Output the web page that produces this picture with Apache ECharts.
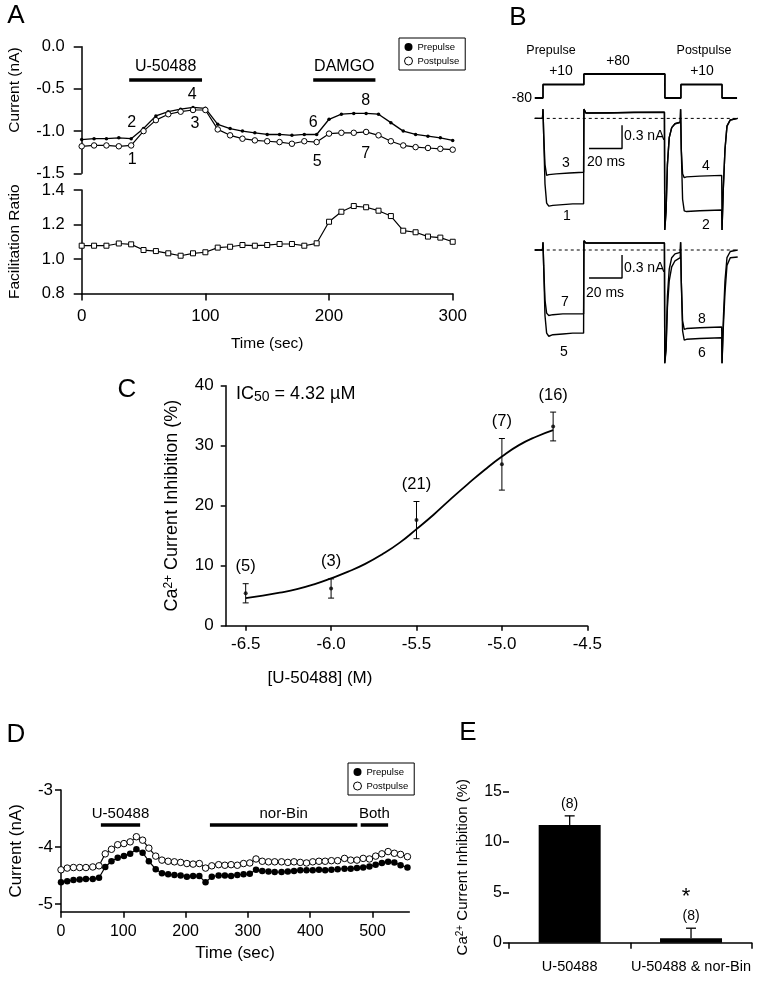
<!DOCTYPE html>
<html><head><meta charset="utf-8">
<script src="https://cdn.jsdelivr.net/npm/echarts@6/dist/echarts.min.js"></script>
<style>html,body{margin:0;padding:0;background:#fff}#c{width:762px;height:981px}</style>
</head><body><div id="c"></div>
<script>
// ---------- Panel A data ----------
const aTime = [0,10,20,30,40,50,60,70,80,90,100,110,120,130,140,150,160,170,180,190,200,210,220,230,240,250,260,270,280,290,300];
const aPre  = [-1.10,-1.09,-1.09,-1.08,-1.09,-0.97,-0.82,-0.77,-0.74,-0.72,-0.73,-0.92,-0.97,-1.00,-1.02,-1.04,-1.04,-1.05,-1.04,-1.04,-0.86,-0.80,-0.79,-0.79,-0.80,-0.90,-1.00,-1.04,-1.06,-1.08,-1.11];
const aPost = [-1.18,-1.17,-1.17,-1.18,-1.17,-1.00,-0.87,-0.80,-0.77,-0.75,-0.75,-0.98,-1.05,-1.09,-1.11,-1.12,-1.13,-1.15,-1.12,-1.13,-1.03,-1.02,-1.02,-1.01,-1.05,-1.12,-1.17,-1.19,-1.20,-1.21,-1.22];
const aRatio = [1.077,1.077,1.077,1.09,1.085,1.052,1.046,1.033,1.019,1.033,1.039,1.066,1.071,1.081,1.077,1.081,1.087,1.087,1.077,1.091,1.216,1.274,1.307,1.300,1.280,1.249,1.164,1.155,1.130,1.124,1.100];
const aDrugs = [{name:'U-50488', from:38.4, to:97.3},{name:'DAMGO', from:187.2, to:237.5}];
const aDrugLevel = -0.396;

// ---------- Panel B data (ms, nA / mV) ----------
const protocol = [[-5,-80],[0,-80],[0,10],[24.8,10],[24.8,80],[73.9,80],[73.9,-80],[83.6,-80],[83.6,10],[108.5,10],[108.5,-80],[117.6,-80]];
const traceCtrlTop = [[-5,0],[-0.3,0],[0,0.12],[0.4,-0.2],[1.2,-0.85],[2.2,-1.1],[3.5,-1.14],[6,-1.13],[12,-1.12],[18,-1.11],[24.6,-1.11],[24.8,0.12],[26,0.07],[40,0.07],[55,0.08],[73.6,0.08],[73.8,-1.45],[74.6,-1.2],[75.4,-0.6],[76.5,-0.25],[78,-0.12],[80,-0.07],[83.2,-0.05],[83.4,0.12],[83.8,-0.4],[84.6,-1.05],[85.6,-1.2],[87,-1.21],[95,-1.2],[108.3,-1.19],[108.5,-1.45],[109.3,-0.9],[110.3,-0.4],[111.5,-0.1],[113.5,-0.02],[118,0]];
const traceDrugTop = [[-5,0],[-0.3,0],[0,0.12],[0.4,-0.2],[1.2,-0.6],[2.2,-0.74],[3.5,-0.73],[8,-0.72],[16,-0.71],[24.6,-0.7],[24.8,0.12],[26,0.07],[73.6,0.08],[73.8,-1.45],[74.6,-1.2],[75.4,-0.6],[76.5,-0.25],[78,-0.12],[80,-0.07],[83.2,-0.05],[83.4,0.12],[83.8,-0.4],[84.6,-0.72],[85.6,-0.77],[87,-0.76],[95,-0.75],[108.3,-0.74],[108.5,-1.45],[109.3,-0.9],[110.3,-0.4],[111.5,-0.1],[113.5,-0.02],[118,0]];
const traceCtrlBot = [[-5,0],[-0.3,0],[0,0.1],[0.4,-0.2],[1.2,-0.85],[2.2,-1.08],[3.5,-1.12],[6,-1.1],[12,-1.09],[18,-1.08],[24.6,-1.08],[24.8,0.12],[26,0.09],[40,0.09],[55,0.09],[73.6,0.09],[73.8,-1.47],[74.6,-1.25],[75.4,-0.6],[76.5,-0.25],[78,-0.1],[80,-0.05],[83.2,-0.03],[83.4,0.1],[83.8,-0.4],[84.6,-1.05],[85.6,-1.17],[87,-1.16],[95,-1.15],[108.3,-1.14],[108.5,-1.47],[109.3,-0.9],[110.3,-0.4],[111.5,-0.1],[113.5,-0.02],[118,0]];
const traceDrugBot = [[-5,0],[-0.3,0],[0,0.1],[0.4,-0.2],[1.2,-0.65],[2.2,-0.82],[3.5,-0.85],[6,-0.84],[12,-0.83],[18,-0.83],[24.6,-0.83],[24.8,0.12],[26,0.09],[73.6,0.09],[73.8,-1.47],[74.6,-1.3],[75.4,-0.75],[76.5,-0.4],[78,-0.22],[80,-0.14],[83.2,-0.1],[83.4,0.1],[83.8,-0.4],[84.6,-0.92],[85.6,-1.03],[87,-1.02],[95,-1.01],[108.3,-1.0],[108.5,-1.47],[109.3,-1.0],[110.3,-0.55],[111.5,-0.2],[113.5,-0.1],[118,-0.09]];
const scaleTime = [27.9, 47.9];   // 20 ms
const scaleAmp = 0.3;             // nA

// ---------- Panel C data ----------
const cLogConc = [-6.5,-6.0,-5.5,-5.0,-4.7];
const cMean = [5.4,6.2,17.6,26.9,33.2];
const cErr  = [1.6,1.6,3.1,4.3,2.4];
const cN    = [5,3,21,7,16];
const fitX = [-6.5,-6.4,-6.3,-6.2,-6.1,-6.0,-5.9,-5.8,-5.7,-5.6,-5.5,-5.4,-5.3,-5.2,-5.1,-5.0,-4.9,-4.8,-4.7];
const fitY = [4.6,5.0,5.5,6.1,6.9,7.9,9.0,10.3,11.9,13.8,16.1,18.5,21.1,23.6,26.0,28.2,30.1,31.5,32.6];
const cTicks = [-6.5,-6.0,-5.5,-5.0,-4.5];

// ---------- Panel D data ----------
const dTime = [0,10,20,30,40,51,61,71,81,91,101,111,121,131,141,152,162,172,182,192,202,212,222,232,242,253,263,273,283,293,303,313,323,333,343,354,364,374,384,394,404,414,424,434,444,455,465,475,485,495,505,515,525,535,545,556];
const dPre  = [-4.62,-4.60,-4.58,-4.57,-4.56,-4.56,-4.54,-4.35,-4.25,-4.19,-4.16,-4.12,-4.04,-4.10,-4.25,-4.39,-4.46,-4.48,-4.49,-4.50,-4.52,-4.51,-4.51,-4.62,-4.52,-4.50,-4.50,-4.51,-4.49,-4.48,-4.47,-4.40,-4.42,-4.43,-4.44,-4.44,-4.43,-4.42,-4.41,-4.41,-4.41,-4.40,-4.41,-4.40,-4.39,-4.38,-4.38,-4.37,-4.36,-4.34,-4.31,-4.28,-4.26,-4.27,-4.32,-4.36];
const dPost = [-4.40,-4.37,-4.36,-4.36,-4.36,-4.35,-4.33,-4.12,-4.04,-3.96,-3.94,-3.91,-3.82,-3.88,-4.02,-4.16,-4.23,-4.25,-4.26,-4.27,-4.29,-4.30,-4.29,-4.37,-4.33,-4.31,-4.32,-4.31,-4.32,-4.29,-4.28,-4.21,-4.25,-4.26,-4.26,-4.26,-4.27,-4.26,-4.27,-4.28,-4.26,-4.25,-4.25,-4.24,-4.24,-4.20,-4.23,-4.23,-4.20,-4.21,-4.16,-4.12,-4.08,-4.11,-4.13,-4.17];
const dDrugs = [{name:'U-50488', from:64, to:127},{name:'nor-Bin', from:239, to:475.6},{name:'Both', from:481, to:525}];
const dDrugLevel = -3.614;
const dTicksX = [0,100,200,300,400,500];
const dTicksY = [-5,-4,-3];

// ---------- Panel E data ----------
const eCats = ['U-50488','U-50488 & nor-Bin'];
const eMean = [11.7, 0.44];
const eErr  = [0.9, 1.0];
const eN    = [8, 8];
const eSig  = ['', '*'];

const FONT = 'Liberation Sans, Arial, Helvetica, sans-serif';
const chart = echarts.init(document.getElementById('c'), null, {renderer:'canvas'});
const axLine = {lineStyle:{color:'#000', width:1.5}};
const axTick = (len)=>({show:true, length:len, lineStyle:{color:'#000', width:1.5}});
const txt = (s, x, y, size, extra) => Object.assign({type:'text', x:x, y:y, style:{text:s, fontSize:size, fontFamily:FONT, fill:'#000', align:'center', verticalAlign:'middle'}}, extra||{});

const drugMark = (drugs, level, fs, dist) => ({
  silent:true, symbol:['none','none'],
  lineStyle:{color:'#000', width:3.5, type:'solid'},
  label:{show:true, position:'middle', formatter:(p)=>p.name, fontSize:fs, fontFamily:FONT, color:'#000', distance:dist},
  emphasis:{disabled:true},
  data: drugs.map(d=>[{name:d.name, coord:[d.from, level]},{coord:[d.to, level]}])
});

const ciRender = (params, api) => {
  const x = api.value(0), m = api.value(1), e = api.value(2), n = api.value(3);
  const t = api.coord([x, m+e]), b = api.coord([x, m-e]);
  const cw = 3;
  const ls = {stroke:'#000', lineWidth:1};
  return {type:'group', children:[
    {type:'line', shape:{x1:t[0],y1:t[1],x2:b[0],y2:b[1]}, style:ls},
    {type:'line', shape:{x1:t[0]-cw,y1:t[1],x2:t[0]+cw,y2:t[1]}, style:ls},
    {type:'line', shape:{x1:b[0]-cw,y1:b[1],x2:b[0]+cw,y2:b[1]}, style:ls},
    {type:'text', x:t[0], y:t[1]-17, style:{text:'('+n+')', fontSize:16.5, fontFamily:FONT, fill:'#000', align:'center', verticalAlign:'middle'}}
  ]};
};
const eRender = (params, api) => {
  const i = api.value(0), m = api.value(1), e = api.value(2), n = api.value(3);
  const t = api.coord([i, m+e]), b = api.coord([i, m]);
  const cw = 5;
  const ls = {stroke:'#000', lineWidth:1.3};
  const ch = [
    {type:'line', shape:{x1:t[0],y1:t[1],x2:b[0],y2:b[1]}, style:ls},
    {type:'line', shape:{x1:t[0]-cw,y1:t[1],x2:t[0]+cw,y2:t[1]}, style:ls},
    {type:'text', x:t[0], y:t[1]-12, style:{text:'('+n+')', fontSize:14, fontFamily:FONT, fill:'#000', align:'center', verticalAlign:'middle'}}
  ];
  if (eSig[i]) ch.push({type:'text', x:t[0]-5, y:t[1]-31, style:{text:eSig[i], fontSize:22, fontFamily:FONT, fill:'#000', align:'center', verticalAlign:'middle'}});
  return {type:'group', children:ch};
};

const supTitle = (pre, sup, post, fs) => ({
  name: '{a|'+pre+'}{s|'+sup+'}{a|'+post+'}',
  rich: {a:{fontSize:fs, fontFamily:FONT, color:'#000'}, s:{fontSize:Math.round(fs*0.65), fontFamily:FONT, color:'#000', verticalAlign:'top', padding:[0,0,6,0]}}
});
const cTitle = supTitle('Ca','2+',' Current Inhibition (%)',18);
const eTitle = supTitle('Ca','2+',' Current Inhibition (%)',15);

const legendBox = (left, top) => ({
  left:left, top:top, orient:'vertical', selectedMode:false,
  itemWidth:8, itemHeight:8, itemGap:4, itemTextGap:6,
  padding:[4,6,4,5], borderColor:'#000', borderWidth:1, backgroundColor:'#fff',
  textStyle:{fontSize:9.5, fontFamily:FONT, color:'#000'},
  data:[{name:'Prepulse', icon:'circle', itemStyle:{color:'#000'}},
        {name:'Postpulse', icon:'circle', itemStyle:{color:'#fff', borderColor:'#000', borderWidth:1}}]
});

const option = {
  animation:false,
  textStyle:{fontFamily:FONT, color:'#000'},
  legend:[legendBox(399,38), legendBox(348,763)],
  grid:[
    {left:81.7, top:46.7, width:371, height:126.6, outerBoundsMode:'none'},   // 0 A current
    {left:81.7, top:190, width:371, height:103.5, outerBoundsMode:'none'},    // 1 A ratio
    {left:533.1, top:74, width:207.9, height:24, outerBoundsMode:'none'},     // 2 B protocol
    {left:533.1, top:103, width:207.9, height:154, outerBoundsMode:'none'},   // 3 B top traces
    {left:533.1, top:234.6, width:207.9, height:154, outerBoundsMode:'none'}, // 4 B bottom traces
    {left:225.7, top:385.7, width:361.6, height:240, outerBoundsMode:'none'}, // 5 C
    {left:61, top:790, width:348.3, height:121.7, outerBoundsMode:'none'},    // 6 D
    {left:509, top:791.7, width:242.7, height:151, outerBoundsMode:'none'}    // 7 E
  ],
  xAxis:[
    {gridIndex:0, type:'value', min:0, max:300, show:false},
    {gridIndex:1, type:'value', min:0, max:300, interval:100, axisLine:axLine, axisTick:axTick(7), splitLine:{show:false},
      axisLabel:{fontSize:17, color:'#000', margin:14}, name:'Time (sec)', nameLocation:'middle', nameGap:42, nameTextStyle:{fontSize:15.5, color:'#000'}},
    {gridIndex:2, type:'value', min:-6, max:120, show:false},
    {gridIndex:3, type:'value', min:-6, max:120, show:false},
    {gridIndex:4, type:'value', min:-6, max:120, show:false},
    {gridIndex:5, type:'value', min:-6.617, max:-4.5, axisLine:axLine, splitLine:{show:false},
      axisTick:Object.assign(axTick(5), {customValues:cTicks}),
      axisLabel:{customValues:cTicks, formatter:(v)=>v.toFixed(1), fontSize:17, color:'#000', margin:10}},
    {gridIndex:6, type:'value', min:0, max:559, axisLine:axLine, splitLine:{show:false},
      axisTick:Object.assign(axTick(6), {customValues:dTicksX}),
      axisLabel:{customValues:dTicksX, fontSize:16, color:'#000', margin:12},
      name:'Time (sec)', nameLocation:'middle', nameGap:33, nameTextStyle:{fontSize:17, color:'#000'}},
    {gridIndex:7, type:'category', data:eCats, axisLine:axLine, axisTick:axTick(6), splitLine:{show:false},
      axisLabel:{interval:0, fontSize:14.5, color:'#000', margin:17}}
  ],
  yAxis:[
    {gridIndex:0, type:'value', min:-1.5, max:0, interval:0.5, axisLine:axLine, axisTick:axTick(8), splitLine:{show:false},
      axisLabel:{formatter:(v)=>v.toFixed(1), fontSize:16.5, color:'#000', margin:17},
      name:'Current (nA)', nameLocation:'middle', nameGap:59, nameTextStyle:{fontSize:15.5, color:'#000', padding:[0,0,0,40]}},
    {gridIndex:1, type:'value', min:0.8, max:1.4, interval:0.2, axisLine:axLine, axisTick:axTick(8), splitLine:{show:false},
      axisLabel:{formatter:(v)=>v.toFixed(1), fontSize:16.5, color:'#000', margin:17},
      name:'Facilitation Ratio', nameLocation:'middle', nameGap:59, nameTextStyle:{fontSize:15.5, color:'#000'}},
    {gridIndex:2, type:'value', min:-80, max:80, show:false},
    {gridIndex:3, type:'value', min:-1.8, max:0.2, show:false},
    {gridIndex:4, type:'value', min:-1.8, max:0.2, show:false},
    {gridIndex:5, type:'value', min:0, max:40, interval:10, axisLine:axLine, axisTick:axTick(5), splitLine:{show:false},
      axisLabel:{fontSize:17, color:'#000', margin:12},
      name:cTitle.name, nameLocation:'middle', nameGap:45, nameTextStyle:{rich:cTitle.rich}},
    {gridIndex:6, type:'value', min:-5.135, max:-3, axisLine:axLine, splitLine:{show:false},
      axisTick:Object.assign(axTick(6), {customValues:dTicksY}),
      axisLabel:{customValues:dTicksY, fontSize:17, color:'#000', margin:8},
      name:'Current (nA)', nameLocation:'middle', nameGap:36, nameTextStyle:{fontSize:17, color:'#000'}},
    {gridIndex:7, type:'value', min:0, max:15, interval:5, axisLine:axLine, axisTick:axTick(6), splitLine:{show:false},
      axisLabel:{fontSize:16, color:'#000', margin:7},
      name:eTitle.name, nameLocation:'middle', nameGap:38, nameTextStyle:{rich:eTitle.rich}}
  ],
  series:[
    // Panel A
    {name:'Prepulse', type:'line', xAxisIndex:0, yAxisIndex:0, data:aTime.map((t,i)=>[t,aPre[i]]),
      symbol:'circle', symbolSize:3.5, itemStyle:{color:'#000'}, lineStyle:{color:'#000', width:1.3},
      markLine:drugMark(aDrugs, aDrugLevel, 16, 6)},
    {name:'Postpulse', type:'line', xAxisIndex:0, yAxisIndex:0, data:aTime.map((t,i)=>[t,aPost[i]]),
      symbol:'circle', symbolSize:5.5, itemStyle:{color:'#fff', borderColor:'#000', borderWidth:1}, lineStyle:{color:'#000', width:1.2}},
    {name:'Ratio', type:'line', xAxisIndex:1, yAxisIndex:1, data:aTime.map((t,i)=>[t,aRatio[i]]),
      symbol:'rect', symbolSize:5, itemStyle:{color:'#fff', borderColor:'#000', borderWidth:1}, lineStyle:{color:'#000', width:1.2}},
    // Panel B
    {name:'Protocol', type:'line', xAxisIndex:2, yAxisIndex:2, data:protocol, symbol:'none', lineStyle:{color:'#000', width:1.8}},
    {name:'BaseTop', type:'line', xAxisIndex:3, yAxisIndex:3, data:[[-5,0],[118,0]], symbol:'none', lineStyle:{color:'#000', width:1, type:[3,3]}},
    {name:'CtrlTop', type:'line', xAxisIndex:3, yAxisIndex:3, data:traceCtrlTop, symbol:'none', lineStyle:{color:'#000', width:1.4}},
    {name:'DrugTop', type:'line', xAxisIndex:3, yAxisIndex:3, data:traceDrugTop, symbol:'none', lineStyle:{color:'#000', width:1.4}},
    {name:'ScaleTop', type:'line', xAxisIndex:3, yAxisIndex:3, symbol:'none', lineStyle:{color:'#000', width:1.4},
      data:[[scaleTime[0],-0.39],[scaleTime[1],-0.39],[scaleTime[1],-0.39+scaleAmp]]},
    {name:'BaseBot', type:'line', xAxisIndex:4, yAxisIndex:4, data:[[-5,0],[118,0]], symbol:'none', lineStyle:{color:'#000', width:1, type:[3,3]}},
    {name:'CtrlBot', type:'line', xAxisIndex:4, yAxisIndex:4, data:traceCtrlBot, symbol:'none', lineStyle:{color:'#000', width:1.4}},
    {name:'DrugBot', type:'line', xAxisIndex:4, yAxisIndex:4, data:traceDrugBot, symbol:'none', lineStyle:{color:'#000', width:1.4}},
    {name:'ScaleBot', type:'line', xAxisIndex:4, yAxisIndex:4, symbol:'none', lineStyle:{color:'#000', width:1.4},
      data:[[scaleTime[0],-0.364],[scaleTime[1],-0.364],[scaleTime[1],-0.364+scaleAmp]]},
    // Panel C
    {name:'Fit', type:'line', xAxisIndex:5, yAxisIndex:5, data:fitX.map((x,i)=>[x,fitY[i]]), smooth:true, symbol:'none', lineStyle:{color:'#000', width:1.8}},
    {name:'CErr', type:'custom', xAxisIndex:5, yAxisIndex:5, renderItem:ciRender, data:cLogConc.map((x,i)=>[x,cMean[i],cErr[i],cN[i]])},
    {name:'CMean', type:'scatter', xAxisIndex:5, yAxisIndex:5, data:cLogConc.map((x,i)=>[x,cMean[i]]), symbol:'circle', symbolSize:4, itemStyle:{color:'#000'}},
    // Panel D
    {name:'Prepulse', type:'line', xAxisIndex:6, yAxisIndex:6, data:dTime.map((t,i)=>[t,dPre[i]]),
      symbol:'circle', symbolSize:6.5, itemStyle:{color:'#000'}, lineStyle:{color:'#000', width:1.2},
      markLine:drugMark(dDrugs, dDrugLevel, 15, 4)},
    {name:'Postpulse', type:'line', xAxisIndex:6, yAxisIndex:6, data:dTime.map((t,i)=>[t,dPost[i]]),
      symbol:'circle', symbolSize:6.5, itemStyle:{color:'#fff', borderColor:'#000', borderWidth:1}, lineStyle:{color:'#000', width:1.2}},
    // Panel E
    {name:'EBar', type:'bar', xAxisIndex:7, yAxisIndex:7, data:eMean, barWidth:62, itemStyle:{color:'#000'}},
    {name:'EErr', type:'custom', xAxisIndex:7, yAxisIndex:7, renderItem:eRender, data:eMean.map((m,i)=>[i,m,eErr[i],eN[i]]), z:3}
  ],
  graphic:[
    txt('A', 16, 16, 26), txt('B', 518, 18, 26), txt('C', 127, 390, 26), txt('D', 16, 735, 26), txt('E', 468, 733, 26),
    // Panel A point labels
    txt('2',131.7,122.7,16), txt('1',132.3,159.3,16), txt('4',192.3,94.3,16), txt('3',195,123.3,16),
    txt('6',313.3,122.7,16), txt('8',365.7,101,16), txt('7',365.7,153.3,16), txt('5',317.3,161.7,16),
    // Panel B protocol labels
    txt('Prepulse',551,51,12.5), txt('+10',561,71,14), txt('+80',618,61,14), txt('Postpulse',704,51,12.5), txt('+10',702,71,14),
    {type:'text', x:532, y:98, style:{text:'-80', fontSize:14, fontFamily:FONT, fill:'#000', align:'right', verticalAlign:'middle'}},
    txt('3',566,163,14), txt('1',567,216,14), txt('4',706,166,14), txt('2',706,225,14),
    txt('7',565,302,14), txt('5',564,352,14), txt('8',702,319,14), txt('6',702,353,14),
    {type:'text', x:624, y:136, style:{text:'0.3 nA', fontSize:14, fontFamily:FONT, fill:'#000', align:'left', verticalAlign:'middle'}},
    {type:'text', x:587, y:162, style:{text:'20 ms', fontSize:14, fontFamily:FONT, fill:'#000', align:'left', verticalAlign:'middle'}},
    {type:'text', x:624, y:268, style:{text:'0.3 nA', fontSize:14, fontFamily:FONT, fill:'#000', align:'left', verticalAlign:'middle'}},
    {type:'text', x:586, y:293, style:{text:'20 ms', fontSize:14, fontFamily:FONT, fill:'#000', align:'left', verticalAlign:'middle'}},
    // Panel C annotations
    {type:'text', x:236, y:394, style:{text:'{a|IC}{s|50}{a| = 4.32 µM}', fontFamily:FONT, fill:'#000', align:'left', verticalAlign:'middle',
      rich:{a:{fontSize:18, fontFamily:FONT}, s:{fontSize:14, fontFamily:FONT, verticalAlign:'bottom', padding:[7,0,0,0]}}}},
    txt('[U-50488] (M)', 320, 678, 17)
  ]
};
chart.setOption(option);
</script></body></html>
